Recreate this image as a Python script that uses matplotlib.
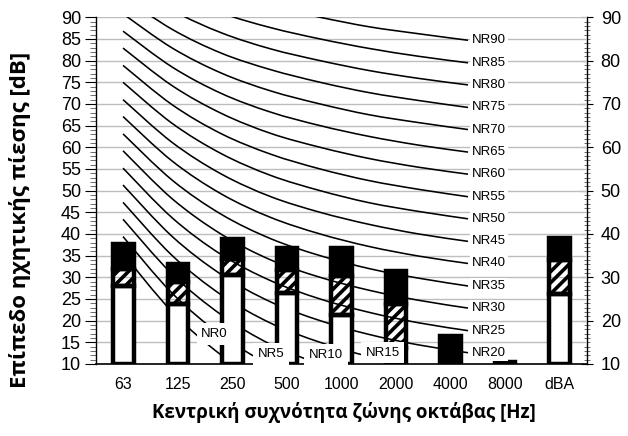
import matplotlib
matplotlib.use('Agg')
import matplotlib.pyplot as plt
from matplotlib.path import Path
from matplotlib.patches import PathPatch
from matplotlib.ticker import MultipleLocator

# ---------------- data ----------------
bands = ['63', '125', '250', '500', '1000', '2000', '4000', '8000', 'dBA']
white_top = [28.0, 23.9, 30.6, 26.3, 21.4, 13.6, 10.0, 10.0, 26.1]
hatch_top = [32.0, 28.9, 34.2, 31.7, 30.4, 23.8, 10.0, 10.0, 33.9]
black_top = [37.6, 33.1, 38.9, 36.8, 36.8, 31.4, 16.5, 10.4, 39.1]

nr_levels = [0, 5, 10, 15, 20, 25, 30, 35, 40, 45, 50, 55, 60, 65, 70, 75, 80, 85, 90]
nr_63 = [35.5, 39.4, 43.4, 47.3, 51.3, 55.2, 59.2, 63.1, 67.1, 71.0, 75.0, 78.9, 82.9, 86.8, 90.8, 94.7, 98.7, 102.6, 106.6]
nr_125 = [22.0, 26.3, 30.7, 35.0, 39.4, 43.7, 48.1, 52.4, 56.8, 61.1, 65.5, 69.8, 74.2, 78.5, 82.9, 87.2, 91.6, 95.9, 100.3]
nr_250 = [12.0, 16.6, 21.3, 25.9, 30.6, 35.2, 39.9, 44.5, 49.2, 53.8, 58.5, 63.1, 67.8, 72.4, 77.1, 81.7, 86.4, 91.0, 95.7]
nr_500 = [4.8, 9.7, 14.5, 19.4, 24.3, 29.2, 34.0, 38.9, 43.8, 48.6, 53.5, 58.4, 63.2, 68.1, 73.0, 77.9, 82.7, 87.6, 92.5]
nr_1000 = [0, 5, 10, 15, 20, 25, 30, 35, 40, 45, 50, 55, 60, 65, 70, 75, 80, 85, 90]
nr_2000 = [-3.5, 1.6, 6.7, 11.7, 16.8, 21.9, 27.0, 32.0, 37.1, 42.2, 47.2, 52.3, 57.4, 62.5, 67.5, 72.6, 77.7, 82.8, 87.8]
nr_4000 = [-6.1, -1.0, 4.2, 9.3, 14.4, 19.5, 24.7, 29.8, 34.9, 40.0, 45.2, 50.3, 55.4, 60.5, 65.7, 70.8, 75.9, 81.0, 86.2]
nr_8000 = [-8.0, -2.8, 2.3, 7.4, 12.6, 17.7, 22.9, 28.0, 33.2, 38.3, 43.5, 48.6, 53.8, 58.9, 64.1, 69.2, 74.4, 79.5, 84.7]
nr_columns = [nr_63, nr_125, nr_250, nr_500, nr_1000, nr_2000, nr_4000, nr_8000]

xlabel = 'Κεντρική συχνότητα ζώνης οκτάβας [Hz]'
ylabel = 'Επίπεδο ηχητικής πίεσης [dB]'

# ---------------- style ----------------
plt.rcParams['font.family'] = ['Liberation Sans', 'DejaVu Sans']
plt.rcParams['hatch.linewidth'] = 2.6
plt.rcParams['hatch.color'] = 'black'

W, H = 628, 436
fig = plt.figure(figsize=(W / 100, H / 100), dpi=100)
left, right, top, bottom = 96.25, 586.75, 17.3, 364.0
rect = [left / W, 1 - bottom / H, (right - left) / W, (bottom - top) / H]

# curve axis (NR curves, grid, left y axis)
ax = fig.add_axes(rect)
ax.set_ylim(10, 90)
ax.set_xlim(-0.543, 9.409)
ax.set_xticks([])
ax.set_yticks(range(10, 91, 5))
ax.yaxis.set_minor_locator(MultipleLocator(1))
ax.yaxis.grid(True, which='major', color='#bdbdbd', lw=1.0)
ax.set_axisbelow(True)
ax.tick_params(axis='y', which='major', direction='out', length=8, width=0.8,
               labelsize=13, pad=3)
ax.tick_params(axis='y', which='minor', direction='out', length=4, width=0.6,
               color='#555555')
for s in ['top', 'bottom', 'right']:
    ax.spines[s].set_visible(False)
ax.spines['left'].set_linewidth(1.0)


def smooth_path(xs, ys):
    n = len(xs)
    verts = [(xs[0], ys[0])]
    codes = [Path.MOVETO]
    for i in range(n - 1):
        x0, y0 = (xs[i - 1], ys[i - 1]) if i > 0 else (xs[i], ys[i])
        x1, y1 = xs[i], ys[i]
        x2, y2 = xs[i + 1], ys[i + 1]
        x3, y3 = (xs[i + 2], ys[i + 2]) if i + 2 < n else (x2, y2)
        c1 = (x1 + (x2 - x0) / 6.0, y1 + (y2 - y0) / 6.0)
        c2 = (x2 - (x3 - x1) / 6.0, y2 - (y3 - y1) / 6.0)
        verts += [c1, c2, (x2, y2)]
        codes += [Path.CURVE4, Path.CURVE4, Path.CURVE4]
    return Path(verts, codes)


curve_x = list(range(len(nr_columns)))
for k in range(len(nr_levels)):
    ys = [col[k] for col in nr_columns]
    patch = PathPatch(smooth_path(curve_x, ys), fc='none', ec='black', lw=1.15,
                      zorder=2)
    ax.add_patch(patch)

# right axis
axr = ax.secondary_yaxis('right')
axr.set_yticks(range(10, 91, 10))
axr.yaxis.set_minor_locator(MultipleLocator(1))
axr.tick_params(axis='y', which='major', direction='inout', length=8, width=0.8,
                labelsize=13, pad=6)
axr.tick_params(axis='y', which='minor', direction='inout', length=5, width=0.6,
                color='#555555')
axr.spines['right'].set_linewidth(1.0)

# bar axis (category x axis)
axb = ax.twiny()
axb.set_xlim(-0.5, len(bands) - 0.5)
axb.set_ylim(10, 90)
axb.xaxis.set_ticks_position('bottom')
axb.xaxis.set_label_position('bottom')
axb.set_xticks(range(len(bands)))
axb.set_xticklabels(bands)
axb.tick_params(axis='x', length=0, labelsize=11.5, pad=9)
for s in ['top', 'left', 'right']:
    axb.spines[s].set_visible(False)
axb.spines['bottom'].set_linewidth(1.2)

xpos = range(len(bands))
base = 10
bw = 0.377
lw_bar = 3.2
axb.bar(xpos, [w - base for w in white_top], bottom=base, width=bw,
        color='white', edgecolor='black', linewidth=lw_bar, zorder=3)
axb.bar(xpos, [h - w for h, w in zip(hatch_top, white_top)], bottom=white_top,
        width=bw, facecolor='none', edgecolor='black', hatch='///',
        linewidth=lw_bar, zorder=3)
axb.bar(xpos, [b - h for b, h in zip(black_top, hatch_top)], bottom=hatch_top,
        width=bw, color='black', edgecolor='black', linewidth=lw_bar, zorder=3)

# NR labels at curve ends (NR20..NR90)
for k, lvl in enumerate(nr_levels):
    if lvl < 20:
        continue
    axb.annotate(f'NR{lvl}', xy=(curve_x[-1], nr_columns[-1][k]),
                 xycoords=ax.transData, xytext=(4, 0), textcoords='offset pixels',
                 ha='left', va='center', fontsize=9.5,
                 bbox=dict(boxstyle='square,pad=0.15', fc='white', ec='none'),
                 zorder=5, annotation_clip=False)

# NR labels for lowest curves
low_labels = [('NR0', 1.856, 16.9), ('NR5', 3.0, 12.3),
              ('NR10', 4.12, 12.1), ('NR15', 5.27, 12.6)]
for txt, xc, yc in low_labels:
    axb.text(xc, yc, txt, transform=ax.transData, ha='center', va='center',
             fontsize=9.5, zorder=5,
             bbox=dict(boxstyle='square,pad=0.35', fc='white', ec='none'))

fig.text(344 / W, 1 - 412 / H, xlabel, ha='center', va='center',
         fontsize=13.5, fontweight='bold', family=['Open Sans', 'DejaVu Sans'])
fig.text(20 / W, 1 - 220 / H, ylabel, ha='center', va='center', rotation=90,
         fontsize=16, fontweight='bold', family=['Open Sans', 'DejaVu Sans'])

fig.savefig('out.png', dpi=100)
